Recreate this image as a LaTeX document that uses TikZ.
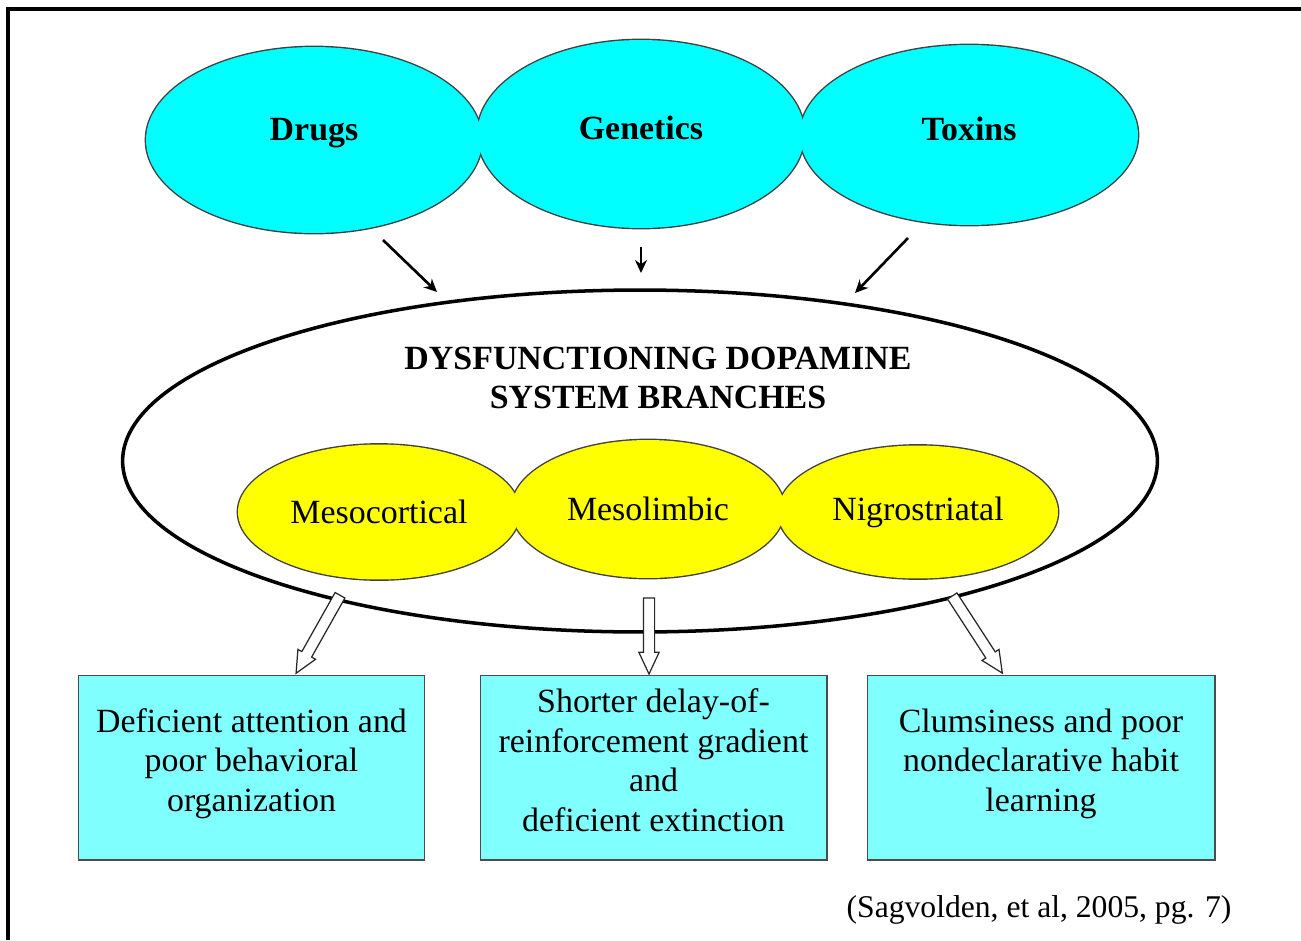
\documentclass[tikz,border=0pt]{standalone}
\usepackage{fontspec}
\setmainfont{Liberation Serif}
\usepackage{xcolor}
\usetikzlibrary{arrows.meta,shapes.geometric,shapes.arrows,backgrounds}

\definecolor{topcyan}{RGB}{0,255,255}
\definecolor{branchyellow}{RGB}{255,255,0}
\definecolor{boxcyan}{RGB}{128,255,255}
\newcommand{\diagfont}{\fontsize{19.3pt}{22.6pt}\selectfont}

\begin{document}
\begin{tikzpicture}[
            x = 0.02cm, y = -0.02cm, % one unit = one pixel of the reference
            > = {Stealth[length=0.26cm, width=0.24cm]}, % arrow head style
            semithick, % line style
            causeoval/.style = {shape=ellipse, fill=topcyan, inner sep=0pt, text height=0.45cm, text depth=0.25cm,
                                font=\diagfont\bfseries},
            branchoval/.style = {shape=ellipse, fill=branchyellow, inner sep=0pt, font=\diagfont},
            rim/.style = {shape=ellipse, draw=black!75, line width=1.6pt, inner sep=0pt},
            effectbox/.style = {draw=black!70, fill=boxcyan, minimum width=6.94cm, minimum height=3.7cm,
                                inner sep=0pt, text depth=0.3cm, align=center, font=\diagfont},
            hollowarrow/.style = {shape=single arrow, draw=black!85, fill=white, line width=0.7pt,
                                  inner xsep=0pt, inner ysep=0.1cm, single arrow head extend=0.09cm,
                                  single arrow tip angle=50}
        ]
\useasboundingbox (0,0) rectangle (1301,940);

% frame
\draw[line width=0.08cm] (1301,8.5) -- (8,8.5) -- (8,940);

% causes
\node[causeoval, text depth=0.45cm, minimum width=6.72cm, minimum height=3.72cm] (Drugs) at (314,140) {Drugs};
\node[causeoval, minimum width=6.54cm, minimum height=3.76cm] (Genetics) at (641,134) {Genetics};
\node[causeoval, minimum width=6.76cm, minimum height=3.6cm] (Toxins) at (969,135) {Toxins};
\begin{scope}[on background layer]
\node[rim, minimum width=6.72cm, minimum height=3.72cm] (Drugs_rim) at (314,140) {};
\node[rim, minimum width=6.54cm, minimum height=3.76cm] (Genetics_rim) at (641,134) {};
\node[rim, minimum width=6.76cm, minimum height=3.6cm] (Toxins_rim) at (969,135) {};
\end{scope}

% dopamine system
\node[shape=ellipse, draw=black, line width=2pt, minimum width=20.7cm, minimum height=6.84cm] (DA) at (640,461) {};
\node[font=\diagfont\bfseries, align=center] (DA_title) at (658,378) {DYSFUNCTIONING DOPAMINE\\SYSTEM BRANCHES};

\node[branchoval, minimum width=5.64cm, minimum height=2.7cm] (Meso_c) at (379,512) {Mesocortical};
\node[branchoval, minimum width=5.46cm, minimum height=2.76cm] (Meso_l) at (648,509) {Mesolimbic};
\node[branchoval, minimum width=5.6cm, minimum height=2.66cm] (Nigro) at (918,512) {Nigrostriatal};
\begin{scope}[on background layer]
\node[rim, fill=white, minimum width=5.64cm, minimum height=2.7cm] (Meso_c_rim) at (379,512) {};
\node[rim, fill=white, minimum width=5.46cm, minimum height=2.76cm] (Meso_l_rim) at (648,509) {};
\node[rim, fill=white, minimum width=5.6cm, minimum height=2.66cm] (Nigro_rim) at (918,512) {};
\end{scope}

% arrows into the system
\coordinate (d1) at (383,240);
\coordinate (d2) at (437,292);
\coordinate (g1) at (641,247);
\coordinate (g2) at (641,273);
\coordinate (t1) at (908,238);
\coordinate (t2) at (855,293);
\path [->, line width=1.5pt] (d1) edge (d2);
\path [->, line width=1.5pt] (g1) edge (g2);
\path [->, line width=1.5pt] (t1) edge (t2);

% effects
\node[effectbox] (Attention) at (251.5,767.5) {Deficient attention and\\poor behavioral\\organization};
\node[effectbox] (Delay) at (653.5,767.5) {Shorter delay-of-\\reinforcement gradient\\and\\deficient extinction};
\node[effectbox, minimum width=6.96cm] (Clumsy) at (1041,767.5) {Clumsiness and poor\\nondeclarative habit\\learning};

\node[hollowarrow, minimum height=1.79cm, rotate=-119.4] (arrow_c) at (321,629) {};
\node[hollowarrow, minimum height=1.52cm, rotate=-90] (arrow_l) at (649,630) {};
\node[hollowarrow, minimum height=1.84cm, rotate=-57] (arrow_n) at (974,629.5) {};

\node[font=\fontsize{18pt}{21pt}\selectfont] (Source) at (1039,910) {(Sagvolden, et al, 2005, pg. 7)};
\end{tikzpicture}
\end{document}
